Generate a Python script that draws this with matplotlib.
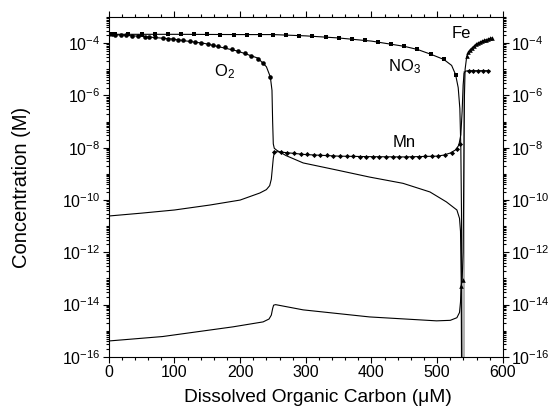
import numpy as np
import matplotlib
matplotlib.use("Agg")
import matplotlib.pyplot as plt
from matplotlib.ticker import LogLocator, MultipleLocator, LogFormatterSciNotation, NullFormatter

plt.rcParams['font.family'] = ['Liberation Sans', 'DejaVu Sans']
plt.rcParams['mathtext.fontset'] = 'custom'
plt.rcParams['mathtext.rm'] = 'Liberation Sans'
plt.rcParams['mathtext.it'] = 'Liberation Sans:italic'

# ---- data (DOC in uM, log10 of concentration in M) ----
o2_x = [0, 50, 96, 146, 196, 227, 240, 246, 248.5, 249.5, 250.5, 252, 256, 270, 296, 347,
        397, 448, 489, 514, 530, 534, 535.5, 536.5, 537.2]
o2_y = [-3.66, -3.74, -3.84, -4.01, -4.30, -4.57, -4.9, -5.29, -5.8, -7.0, -7.85, -8.02, -8.1,
        -8.3, -8.58, -8.85, -9.12, -9.36, -9.69, -10.07, -10.38, -10.7, -11.2, -13.0, -17.0]
o2_mk_x = [0, 5, 10, 18, 27, 35, 45, 55, 62, 70, 83, 90, 98, 106, 113, 123, 131, 141, 151,
           159, 166, 177, 187, 197, 207, 217, 227, 235, 246]
o2_mk_y = [-3.66, -3.66, -3.67, -3.68, -3.70, -3.71, -3.73, -3.75, -3.77, -3.78, -3.81, -3.83,
           -3.85, -3.87, -3.89, -3.92, -3.95, -3.99, -4.03, -4.07, -4.10, -4.16, -4.23, -4.30,
           -4.39, -4.48, -4.60, -4.75, -5.29]

no3_x = [0, 100, 200, 250, 300, 350, 400, 450, 470, 490, 510, 522, 528, 532, 534.5, 536, 537, 537.8]
no3_y = [-3.66, -3.66, -3.67, -3.67, -3.72, -3.80, -3.92, -4.12, -4.24, -4.42, -4.62, -4.85,
         -5.2, -5.7, -6.5, -8.0, -10.5, -17.0]
no3_mk_x = [0, 4, 9, 30, 50, 70, 90, 110, 130, 150, 170, 190, 210, 230, 250, 270, 290, 310,
            330, 350, 370, 390, 410, 430, 450, 470, 490, 510, 528]
no3_mk_y = [-3.66, -3.66, -3.66, -3.66, -3.66, -3.66, -3.66, -3.66, -3.66, -3.66, -3.67, -3.67,
            -3.67, -3.67, -3.67, -3.69, -3.71, -3.73, -3.76, -3.80, -3.84, -3.89, -3.95, -4.02,
            -4.12, -4.24, -4.42, -4.62, -5.2]

mn_x = [0, 50, 100, 154, 200, 230, 240, 245, 247.5, 249, 250.5, 252, 256, 300, 350, 400, 450,
        500, 510, 520, 528, 533, 536, 538, 539.5, 541, 543, 548, 580]
mn_y = [-10.61, -10.5, -10.38, -10.19, -10.0, -9.73, -9.6, -9.45, -9.2, -8.8, -8.4, -8.18, -8.15,
        -8.26, -8.32, -8.34, -8.35, -8.32, -8.28, -8.2, -8.08, -7.9, -7.5, -6.6, -5.6, -5.15,
        -5.07, -5.05, -5.05]
mn_mk_x = [252, 262, 272, 282, 292, 302, 312, 322, 332, 342, 352, 362, 372, 382, 392, 402, 412,
           422, 432, 442, 452, 462, 472, 482, 492, 502, 512, 522, 530, 535,
           548, 555, 562, 570, 578]
mn_mk_y = [-8.15, -8.17, -8.19, -8.21, -8.23, -8.25, -8.27, -8.28, -8.29, -8.30, -8.31, -8.32,
           -8.33, -8.34, -8.34, -8.34, -8.35, -8.35, -8.35, -8.35, -8.35, -8.34, -8.34, -8.33,
           -8.32, -8.31, -8.27, -8.19, -8.05, -7.85,
           -5.05, -5.05, -5.05, -5.05, -5.05]

fe_x = [0, 82, 189, 235, 244, 247.5, 249.5, 251, 254, 296, 397, 499, 520, 530, 534, 535.5,
        536.5, 538, 539.5, 540.5, 541.5, 542.5, 545, 550, 560, 570, 583]
fe_y = [-15.39, -15.22, -14.85, -14.66, -14.55, -14.4, -14.15, -14.02, -14.0, -14.2, -14.47,
        -14.62, -14.6, -14.5, -14.3, -13.9, -13.3, -13.05, -12.0, -9.0, -6.0, -5.0, -4.5, -4.25,
        -4.02, -3.9, -3.80]
fe_mk_x = [536.5, 539, 545, 547, 550, 553, 556, 559, 562, 565, 568, 571, 574, 577, 580, 583]
fe_mk_y = [-13.3, -13.05, -4.5, -4.35, -4.25, -4.17, -4.10, -4.04, -3.99, -3.95, -3.92, -3.89,
           -3.86, -3.84, -3.82, -3.80]

gray_x = [541.5, 541.5]
gray_y = [-17.0, -5.1]

labels = ["O$_2$", "NO$_3$", "Mn", "Fe"]
label_x = [177, 450, 450, 537]
label_y = [-5.10, -4.91, -7.78, -3.61]

fig = plt.figure(figsize=(5.52, 4.16), dpi=100)
ax = fig.add_axes([0.197, 0.142, 0.714, 0.817])

lw = 0.8
ax.plot(gray_x, 10.0 ** np.array(gray_y), color='0.65', lw=1.2)
ax.plot(o2_x, 10.0 ** np.array(o2_y), color='k', lw=lw)
ax.plot(no3_x, 10.0 ** np.array(no3_y), color='k', lw=lw)
ax.plot(mn_x, 10.0 ** np.array(mn_y), color='k', lw=lw)
ax.plot(fe_x, 10.0 ** np.array(fe_y), color='k', lw=lw)

ax.plot(o2_mk_x, 10.0 ** np.array(o2_mk_y), 'o', color='k', ms=3.3, mew=0)
ax.plot(no3_mk_x, 10.0 ** np.array(no3_mk_y), 's', color='k', ms=3.3, mew=0)
ax.plot(mn_mk_x, 10.0 ** np.array(mn_mk_y), 'D', color='k', ms=2.6, mew=0)
ax.plot(fe_mk_x, 10.0 ** np.array(fe_mk_y), '^', color='k', ms=3.3, mew=0)

for s, x, y in zip(labels, label_x, label_y):
    ax.text(x, 10.0 ** y, s, ha='center', va='center', fontsize=12)

ax.set_yscale('log')
ax.set_xlim(0, 600)
ax.set_ylim(1e-16, 1e-3)

ax.xaxis.set_major_locator(MultipleLocator(100))
ax.xaxis.set_minor_locator(MultipleLocator(20))
ax.yaxis.set_major_locator(LogLocator(base=100, numticks=20))
ax.yaxis.set_minor_locator(LogLocator(base=10, subs=np.arange(1, 10), numticks=40))
ax.yaxis.set_major_formatter(LogFormatterSciNotation(base=10))
ax.yaxis.set_minor_formatter(NullFormatter())

ax.tick_params(which='both', direction='out', top=True, right=True, labelright=True,
               labelsize=11.5, width=0.8, pad=2)
ax.tick_params(which='major', length=4)
ax.tick_params(which='minor', length=2)
for sp in ax.spines.values():
    sp.set_linewidth(0.8)

ax.set_xlabel("Dissolved Organic Carbon (\u03bcM)", fontsize=13.8, labelpad=6)
ax.xaxis.label.set_x(0.53)
ax.set_ylabel("Concentration (M)", fontsize=14.5, labelpad=22)

fig.savefig("out.png", dpi=100)
